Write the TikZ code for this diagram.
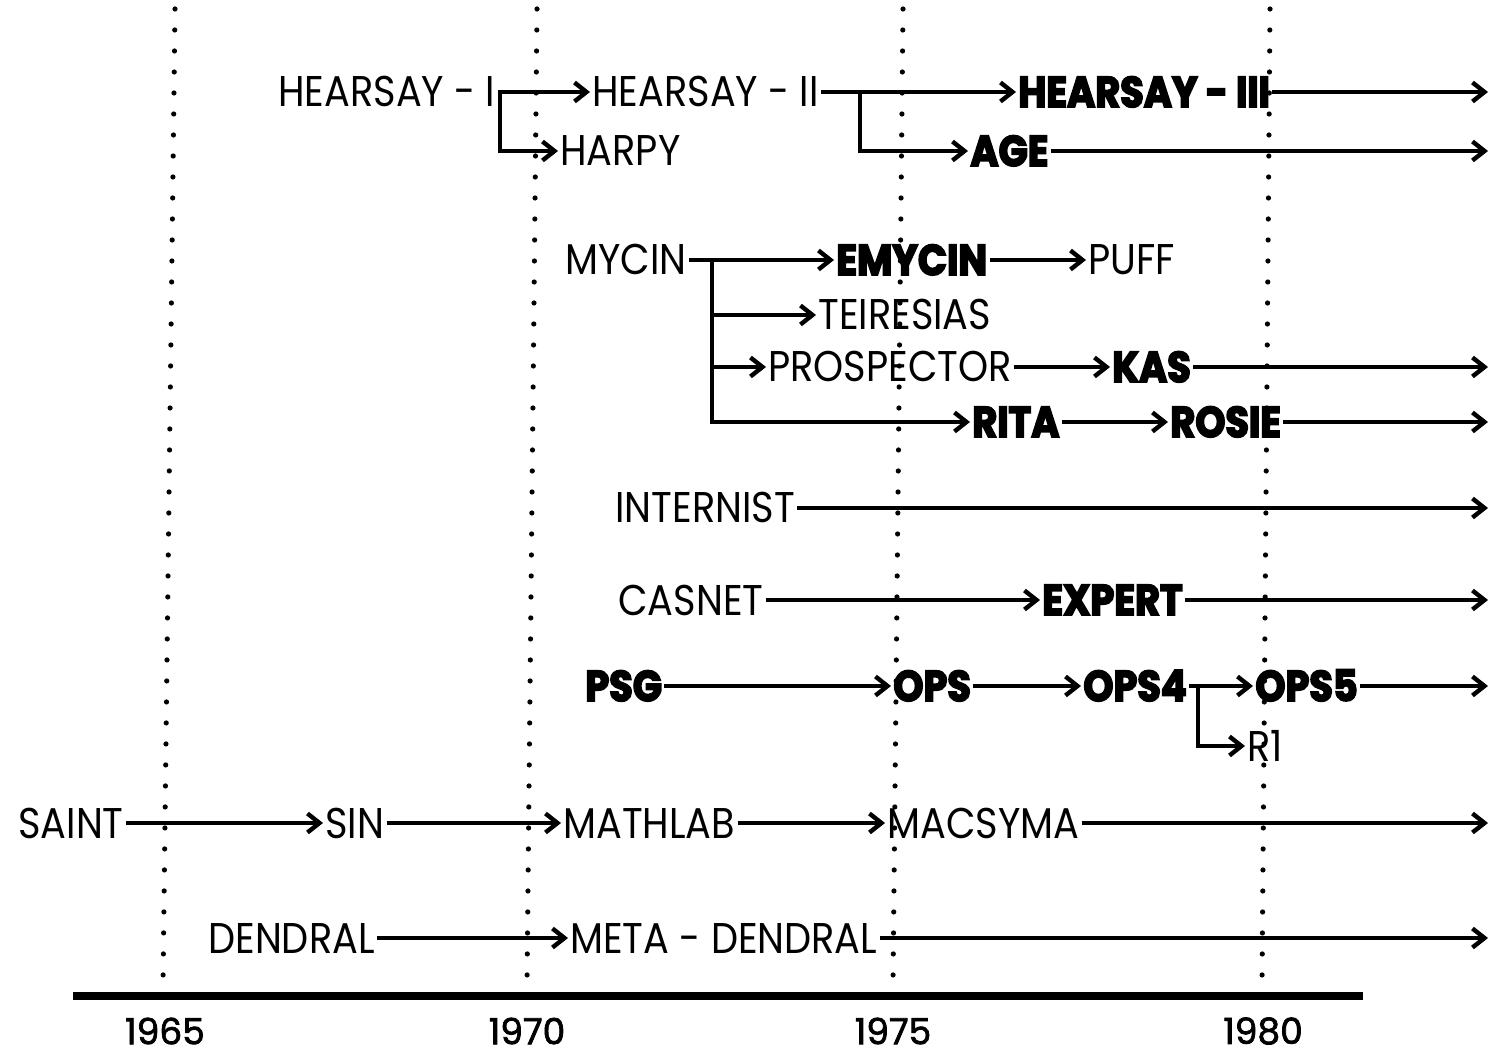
\documentclass[tikz,border=0pt]{standalone}
\usepackage{fontspec}
\setmainfont{Poppins}[FakeStretch=0.89, BoldFeatures={FakeBold=4}]
\newfontfamily\yearfont{Poppins}[FakeBold=2]
\usetikzlibrary{arrows.meta}
\begin{document}
\begin{tikzpicture}[x=0.5pt,y=-0.5pt,
  lbl/.style={anchor=west, inner sep=0pt, text height=15pt, text depth=0pt, font=\fontsize{21.5}{22}\selectfont},
  blbl/.style={lbl, font=\fontsize{21.5}{22}\selectfont\bfseries},
  arr/.style={-{Straight Barb[length=6pt,width=9.5pt,line width=2.2pt]}, line width=2pt, shorten >=1pt, shorten <=1pt},
  grid/.style={line width=2.6pt, line cap=round, dash pattern=on 0pt off 10.5pt},
  yr/.style={inner sep=0pt, font=\yearfont\fontsize{18}{18}\selectfont}]
\useasboundingbox (0,0) rectangle (1498,1058);

% dotted year lines
\draw[grid] (175,9) -- (163,985);
\draw[grid] (537,9) -- (527,985);
\draw[grid] (903,9) -- (893,985);
\draw[grid] (1270,9) -- (1262,985);

% time axis
\draw[line width=4pt] (73,996) -- (1363,996);
\node[yr] (y65) at (165,1031) {1965};
\node[yr] (y70) at (527,1031) {1970};
\node[yr] (y75) at (893,1031) {1975};
\node[yr] (y80) at (1263,1031) {1980};

% HEARSAY family
\node[lbl]  (h1) at (278,92) {HEARSAY - I};
\node[lbl]  (h2) at (592,92) {HEARSAY - II};
\node[blbl] (h3) at (1018,92) {HEARSAY - III};
\node[lbl]  (harpy) at (560,151) {HARPY};
\node[blbl] (age) at (970,151) {AGE};
\coordinate (e1) at (1490,92);
\coordinate (e2) at (1490,151);
\coordinate (b1) at (500,92);
\coordinate (b2) at (860,92);
\draw[arr] (h1.east) -- (h2.west);
\draw[arr] (b1) |- (harpy.west);
\draw[arr] (h2.east) -- (h3.west);
\draw[arr] (b2) |- (age.west);
\draw[arr] (h3.east) -- (e1);
\draw[arr] (age.east) -- (e2);

% MYCIN family
\node[lbl]  (mycin) at (565,260) {MYCIN};
\node[blbl] (emycin) at (836,260) {EMYCIN};
\node[lbl]  (puff) at (1088,260) {PUFF};
\node[lbl]  (teir) at (818,315) {TEIRESIAS};
\node[lbl]  (prosp) at (768,367) {PROSPECTOR};
\node[blbl] (kas) at (1112,367) {KAS};
\node[blbl] (rita) at (972,422) {RITA};
\node[blbl] (rosie) at (1170,422) {ROSIE};
\coordinate (b3) at (712,260);
\coordinate (e3) at (1490,367);
\coordinate (e4) at (1490,422);
\draw[arr] (mycin.east) -- (emycin.west);
\draw[arr] (emycin.east) -- (puff.west);
\draw[arr] (b3) |- (teir.west);
\draw[arr] (b3) |- (prosp.west);
\draw[arr] (b3) |- (rita.west);
\draw[arr] (prosp.east) -- (kas.west);
\draw[arr] (kas.east) -- (e3);
\draw[arr] (rita.east) -- (rosie.west);
\draw[arr] (rosie.east) -- (e4);

% INTERNIST
\node[lbl] (intern) at (615,508) {INTERNIST};
\coordinate (e5) at (1490,508);
\draw[arr] (intern.east) -- (e5);

% CASNET
\node[lbl]  (casnet) at (618,600) {CASNET};
\node[blbl] (expert) at (1042,600) {EXPERT};
\coordinate (e6) at (1490,600);
\draw[arr] (casnet.east) -- (expert.west);
\draw[arr] (expert.east) -- (e6);

% PSG / OPS
\node[blbl] (psg) at (585,686) {PSG};
\node[blbl] (ops) at (893,686) {OPS};
\node[blbl] (ops4) at (1083,686) {OPS4};
\node[blbl] (ops5) at (1255,686) {OPS5};
\node[lbl]  (r1) at (1247,746) {R1};
\coordinate (b4) at (1198,686);
\coordinate (e7) at (1490,686);
\draw[arr] (psg.east) -- (ops.west);
\draw[arr] (ops.east) -- (ops4.west);
\draw[arr] (ops4.east) -- (ops5.west);
\draw[arr] (b4) |- (r1.west);
\draw[arr] (ops5.east) -- (e7);

% SAINT line
\node[lbl] (saint) at (18,823) {SAINT};
\node[lbl] (sin) at (325,823) {SIN};
\node[lbl] (mathlab) at (563,823) {MATHLAB};
\node[lbl] (macsyma) at (887,823) {MACSYMA};
\coordinate (e8) at (1490,823);
\draw[arr] (saint.east) -- (sin.west);
\draw[arr] (sin.east) -- (mathlab.west);
\draw[arr] (mathlab.east) -- (macsyma.west);
\draw[arr] (macsyma.east) -- (e8);

% DENDRAL line
\node[lbl] (dendral) at (208,938) {DENDRAL};
\node[lbl] (meta) at (570,938) {META - DENDRAL};
\coordinate (e9) at (1490,938);
\draw[arr] (dendral.east) -- (meta.west);
\draw[arr] (meta.east) -- (e9);
\end{tikzpicture}
\end{document}
